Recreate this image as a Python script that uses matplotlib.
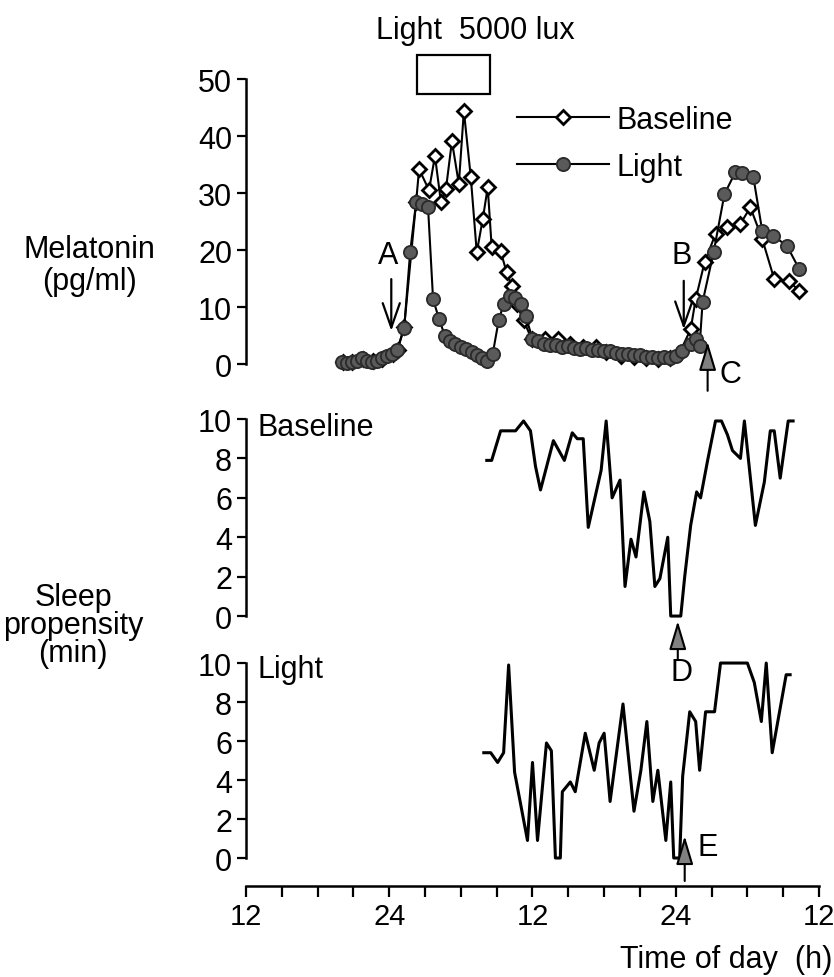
import matplotlib
matplotlib.use('Agg')
import matplotlib.pyplot as plt
from matplotlib.patches import Rectangle
from matplotlib.ticker import MultipleLocator

# melatonin, time in hours from noon of day 0 (24 = midnight)
mel_base_t = [20.1, 20.9, 21.8, 22.6, 23.4, 24.3, 24.7, 25.25, 26.25, 26.5, 27.33, 27.83,
              28.33, 28.75, 29.25, 29.83, 30.25, 30.83, 31.33, 31.83, 32.25, 32.58, 33.33,
              33.83, 34.25, 34.67, 35.25, 35.92, 37.08, 38.17, 39.17, 40.25, 41.33, 42.17,
              43.42, 44.5, 45.5, 46.5, 47.5, 48.33, 49.25, 49.67, 50.42, 51.33, 52.33,
              53.42, 54.25, 55.25, 56.25, 57.5, 58.33]
mel_base_v = [0.3, 0.4, 0.8, 0.5, 0.9, 1.8, 2.5, 6.5, 28.4, 34.2, 30.5, 36.5,
              28.4, 30.7, 39.1, 31.6, 44.4, 32.8, 19.6, 25.4, 31.0, 20.5, 19.8,
              16.1, 13.7, 10.5, 7.7, 4.4, 4.4, 4.4, 3.5, 3.0, 3.0, 2.1,
              1.4, 1.2, 1.0, 0.8, 1.0, 2.0, 6.1, 11.4, 17.9, 22.8, 24.0,
              24.6, 27.5, 21.9, 14.9, 14.6, 12.8]

mel_light_t = [20.08, 20.5, 20.92, 21.33, 21.75, 22.17, 22.58, 23.0, 23.42, 23.83, 24.25,
               24.67, 25.25, 25.75, 26.25, 26.75, 27.25, 27.67, 28.17, 28.67, 29.08, 29.5,
               30.0, 30.42, 30.92, 31.33, 31.75, 32.17, 32.67, 33.17, 33.58, 34.08, 34.5,
               35.0, 35.42, 36.0, 36.5, 37.0, 37.5, 38.0, 38.5, 39.0, 39.5, 40.0, 40.5,
               41.0, 41.5, 42.0, 42.5, 43.0, 43.5, 44.0, 44.5, 45.0, 45.5, 46.0, 46.5,
               47.0, 47.5, 48.0, 48.5, 49.25, 49.67, 50.0, 50.25, 51.17, 52.08, 53.0,
               53.58, 54.5, 55.25, 56.17, 57.33, 58.33]
mel_light_v = [0.3, 0.2, 0.4, 0.6, 1.0, 0.6, 0.4, 0.6, 1.0, 1.4, 1.8,
               2.5, 6.3, 19.6, 28.4, 28.0, 27.5, 11.4, 7.9, 4.9, 4.0, 3.5,
               3.0, 2.6, 2.1, 1.6, 1.0, 0.5, 1.8, 7.7, 10.5, 12.0, 11.5,
               10.5, 8.5, 4.4, 4.0, 3.6, 3.4, 3.3, 3.0, 3.1, 2.8, 2.7, 2.9,
               2.5, 2.4, 2.2, 2.3, 2.0, 1.8, 1.7, 1.5, 1.6, 1.3, 1.2, 1.1,
               1.2, 1.0, 1.4, 2.2, 3.6, 4.4, 3.2, 10.9, 19.6, 29.8, 33.7,
               33.5, 32.8, 23.3, 22.5, 20.7, 16.7]

# sleep propensity (min)
sleep_base_t = [32.17, 32.58, 33.33, 34.58, 35.25, 35.83, 36.25, 36.67, 37.75, 38.67, 39.33,
                39.75, 40.25, 40.67, 41.75, 42.17, 42.67, 43.33, 43.75, 44.25, 44.67, 45.33,
                45.83, 46.25, 46.67, 47.33, 47.58, 48.42, 48.75, 49.25, 49.75, 50.08, 50.67,
                51.33, 51.83, 52.33, 52.75, 53.42, 53.75, 54.67, 55.42, 55.92, 56.25, 56.75,
                57.42, 57.83]
sleep_base_v = [7.9, 7.9, 9.4, 9.4, 9.9, 9.4, 7.6, 6.4, 8.9, 7.9, 9.3,
                9.0, 9.0, 4.5, 7.4, 9.9, 6.0, 6.9, 1.5, 3.9, 3.0, 6.3,
                4.8, 1.5, 1.9, 4.0, 0, 0, 2.0, 4.6, 6.3, 6.0, 7.9,
                9.9, 9.9, 9.2, 8.4, 8.0, 9.9, 4.6, 6.8, 9.4, 9.4, 7.0,
                9.9, 9.9]

sleep_light_t = [31.92, 32.5, 33.08, 33.58, 34.0, 34.5, 35.58, 36.0, 36.42, 37.17, 37.58,
                 37.92, 38.33, 38.5, 39.17, 39.58, 40.42, 41.17, 41.58, 42.0, 42.5, 43.58,
                 44.5, 45.08, 45.58, 46.08, 46.5, 47.17, 47.58, 47.83, 48.33, 48.58, 49.17,
                 49.67, 50.0, 50.5, 51.25, 51.75, 54.0, 54.58, 55.17, 55.58, 56.08, 57.25,
                 57.58]
sleep_light_v = [5.4, 5.4, 4.9, 5.4, 9.9, 4.4, 0.9, 4.9, 0.9, 5.9, 5.5,
                 0, 0, 3.4, 3.9, 3.4, 6.4, 4.5, 5.9, 6.4, 2.9, 7.9,
                 2.4, 4.5, 7.0, 2.9, 4.5, 0.9, 3.9, 0, 0, 4.2, 7.5,
                 7.0, 4.5, 7.5, 7.5, 10, 10, 9.0, 7.0, 10, 5.4, 9.4,
                 9.4]

x_major = [12, 24, 36, 48, 60]
x_labels = ['12', '24', '12', '24', '12']
light_on, light_off = 26.33, 32.42

plt.rcParams['font.family'] = ['Liberation Sans', 'DejaVu Sans']
plt.rcParams['font.size'] = 22

fig = plt.figure(figsize=(8.34, 9.78), dpi=100)
left, width = 246 / 834, 573 / 834
ax_mel = fig.add_axes([left, 0.6151, width, 0.3147])
ax_sb = fig.add_axes([left, 0.3610, width, 0.2176])
ax_sl = fig.add_axes([left, 0.1137, width, 0.2153])

for ax in (ax_mel, ax_sb, ax_sl):
    ax.set_xlim(12, 60)
    ax.spines['top'].set_visible(False)
    ax.spines['right'].set_visible(False)
    ax.spines['left'].set_linewidth(1.8)
    ax.tick_params(axis='y', length=6.5, width=1.6, pad=3.5, labelsize=22)
    ax.patch.set_alpha(0)

for ax in (ax_mel, ax_sb):
    ax.spines['bottom'].set_visible(False)
    ax.tick_params(axis='x', bottom=False, labelbottom=False)

# melatonin panel
ax_mel.set_ylim(-2, 52)
ax_mel.spines['left'].set_bounds(0, 50)
ax_mel.set_yticks([0, 10, 20, 30, 40, 50])
ax_mel.plot(mel_base_t, mel_base_v, color='black', lw=1.5, marker='D', ms=7.2,
            mfc='white', mec='black', mew=2.0, label='Baseline', zorder=2)
ax_mel.plot(mel_light_t, mel_light_v, color='black', lw=1.5, marker='o', ms=9.5,
            mfc='#5a5a5a', mec='#2a2a2a', mew=1.3, label='Light', zorder=3)
ax_mel.legend(loc='upper left', bbox_to_anchor=(517 / 834, 1 - 106 / 978),
              bbox_transform=fig.transFigure, frameon=False, handlelength=3.0,
              handletextpad=0.25, labelspacing=0.55, borderpad=0, borderaxespad=0,
              fontsize=22)
ax_mel.add_patch(Rectangle((light_on, 47.4), light_off - light_on, 6.8, fill=False,
                           lw=1.6, ec='black', clip_on=False))
fig.text(475 / 834, 1 - 31 / 978, 'Light  5000 lux', ha='center', va='center', fontsize=22)

open_arrow = dict(arrowstyle='->,head_length=0.8,head_width=0.28', lw=1.6, color='black',
                  shrinkA=0, shrinkB=0)
fill_arrow = dict(arrowstyle='-|>,head_length=0.8,head_width=0.24', lw=1.5, ec='black',
                  fc='#808080', shrinkA=0, shrinkB=0)
ax_mel.annotate('', xy=(24.17, 5.8), xytext=(24.17, 14.9), arrowprops=open_arrow,
                annotation_clip=False)
ax_mel.text(23.9, 19.1, 'A', ha='center', va='center', fontsize=22)
ax_mel.annotate('', xy=(48.67, 6.1), xytext=(48.67, 14.6), arrowprops=open_arrow,
                annotation_clip=False)
ax_mel.text(48.5, 19.1, 'B', ha='center', va='center', fontsize=22)
ax_mel.annotate('', xy=(50.67, 3.9), xytext=(50.67, -4.7), arrowprops=fill_arrow,
                annotation_clip=False)
ax_mel.text(52.6, -1.75, 'C', ha='center', va='center', fontsize=22)

# sleep propensity panels
for ax, t, v, name, ytxt in ((ax_sb, sleep_base_t, sleep_base_v, 'Baseline', 9.6),
                             (ax_sl, sleep_light_t, sleep_light_v, 'Light', 9.7)):
    ax.set_ylim(-0.4, 10.4)
    ax.spines['left'].set_bounds(0, 10)
    ax.set_yticks([0, 2, 4, 6, 8, 10])
    ax.plot(t, v, color='black', lw=2.2)
    ax.text(13.0, ytxt, name, fontsize=22, va='center')

ax_sb.annotate('', xy=(48.17, -0.25), xytext=(48.17, -2.2), arrowprops=fill_arrow,
               annotation_clip=False)
ax_sb.text(48.5, -2.84, 'D', ha='center', va='center', fontsize=22)
ax_sl.annotate('', xy=(48.75, 1.13), xytext=(48.75, -1.18), arrowprops=fill_arrow,
               annotation_clip=False)
ax_sl.text(50.67, 0.56, 'E', ha='center', va='center', fontsize=22)

# shared time axis
ax_sl.spines['bottom'].set_position(('outward', 14.4))
ax_sl.spines['bottom'].set_linewidth(1.8)
ax_sl.spines['bottom'].set_bounds(12, 60)
ax_sl.set_xticks(x_major)
ax_sl.set_xticklabels(x_labels)
ax_sl.xaxis.set_minor_locator(MultipleLocator(3))
ax_sl.tick_params(axis='x', which='both', length=8, width=1.6, pad=3.5, labelsize=21)

fig.text(89 / 834, 1 - 266 / 978, 'Melatonin\n(pg/ml)', ha='center', va='center',
         fontsize=22, linespacing=1.05)
fig.text(73 / 834, 1 - 626 / 978, 'Sleep\npropensity\n(min)', ha='center', va='center',
         fontsize=22, linespacing=0.9)
fig.text(832 / 834, 1 - 960 / 978, 'Time of day  (h)', ha='right', va='center', fontsize=22)

fig.savefig('out.png', dpi=100)
